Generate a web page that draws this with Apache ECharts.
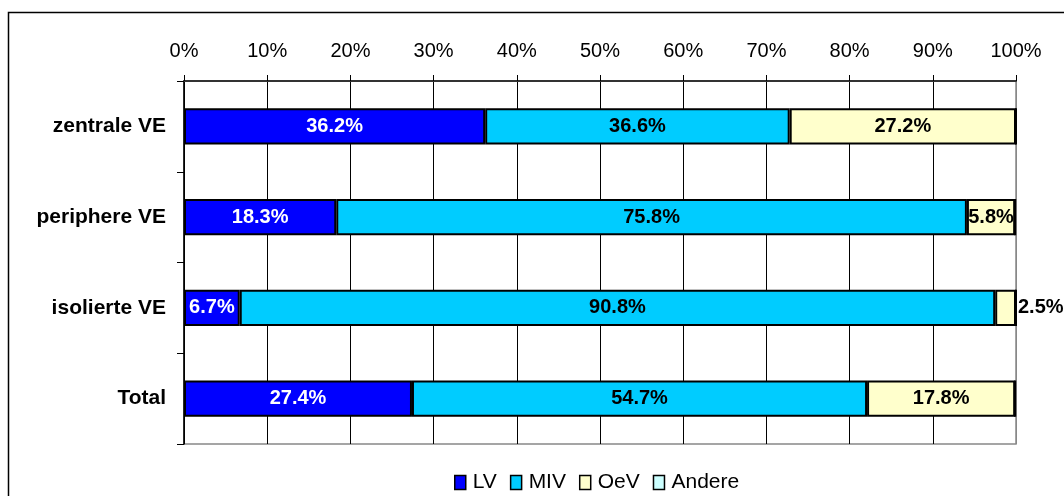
<!DOCTYPE html>
<html>
<head>
<meta charset="utf-8">
<script src="https://cdn.jsdelivr.net/npm/echarts@6/dist/echarts.min.js"></script>
<style>
  html, body { margin: 0; padding: 0; background: #fff; }
  #chart { width: 1064px; height: 496px; }
</style>
</head>
<body>
<div id="chart"></div>
<script>
  // Kategorien von oben nach unten
  const categories = ['zentrale VE', 'periphere VE', 'isolierte VE', 'Total'];
  const lvData = [36.2, 18.3, 6.7, 27.4];
  const mivData = [36.6, 75.8, 90.8, 54.7];
  const oevData = [27.2, 5.8, 2.5, 17.8];
  const andereData = [0, 0, 0, 0];
  const tickLabels = ['0%', '10%', '20%', '30%', '40%', '50%', '60%', '70%', '80%', '90%', '100%'];

  const font = 'Liberation Sans, Arial, sans-serif';
  const gridColors = ['#000', '#000', '#000', '#000', '#000', '#000', '#000', '#000', '#000', '#000', '#888'];

  function labelStyle(color) {
    return {
      show: true,
      position: 'inside',
      color: color,
      fontFamily: font,
      fontWeight: 'bold',
      fontSize: 20,
      formatter: p => p.value ? p.value.toFixed(1) + '%' : ''
    };
  }

  function bar(name, data, color, textColor) {
    return {
      name: name,
      type: 'bar',
      stack: 'total',
      barWidth: '40%',
      data: data,
      itemStyle: { color: color, borderColor: '#000', borderWidth: 2 },
      label: labelStyle(textColor)
    };
  }

  const oevSeries = bar('OeV', oevData.map((v, i) => {
    // isolierte VE: Beschriftung rechts neben dem Balken
    if (i === 2) return { value: v, label: { position: 'right', distance: 2 } };
    return v;
  }), '#FFFFCC', '#000');

  let chart = echarts.init(document.getElementById('chart'));
  chart.setOption({
    animation: false,
    textStyle: { fontFamily: font },
    graphic: [{
      type: 'rect',
      shape: { x: 8.5, y: 12.5, width: 1100, height: 520 },
      style: { fill: 'none', stroke: '#000', lineWidth: 1.5 },
      silent: true
    }],
    grid: {
      left: 184, right: 48, top: 81, bottom: 52,
      show: true, borderColor: '#888', borderWidth: 1.5, backgroundColor: '#fff'
    },
    legend: {
      bottom: 3,
      left: 454,
      padding: 0,
      itemWidth: 11,
      itemHeight: 14,
      itemGap: 13,
      icon: 'rect',
      textStyle: { fontSize: 21, color: '#000', fontFamily: font, padding: [0, 0, 0, 2] },
      itemStyle: { borderColor: '#000', borderWidth: 1.5 },
      data: ['LV', 'MIV', 'OeV', 'Andere']
    },
    xAxis: {
      type: 'value',
      position: 'top',
      min: 0,
      max: 100,
      interval: 10,
      axisLine: { show: true, lineStyle: { color: '#333', width: 2 } },
      axisTick: { show: true, length: 6, lineStyle: { color: '#000' } },
      axisLabel: {
        fontSize: 20, color: '#000', margin: 20,
        formatter: v => tickLabels[Math.round(v / 10)]
      },
      splitLine: { show: true, lineStyle: { color: gridColors, width: 1 } }
    },
    yAxis: {
      type: 'category',
      inverse: true,
      data: categories,
      axisLine: { show: true, lineStyle: { color: '#000', width: 1.5 } },
      axisTick: { show: true, length: 7, lineStyle: { color: '#000' } },
      axisLabel: { fontSize: 21, fontWeight: 'bold', color: '#000', margin: 18 }
    },
    series: [
      bar('LV', lvData, '#0000FF', '#fff'),
      bar('MIV', mivData, '#00CCFF', '#000'),
      oevSeries,
      bar('Andere', andereData, '#CCFFFF', '#000')
    ]
  });
</script>
</body>
</html>
